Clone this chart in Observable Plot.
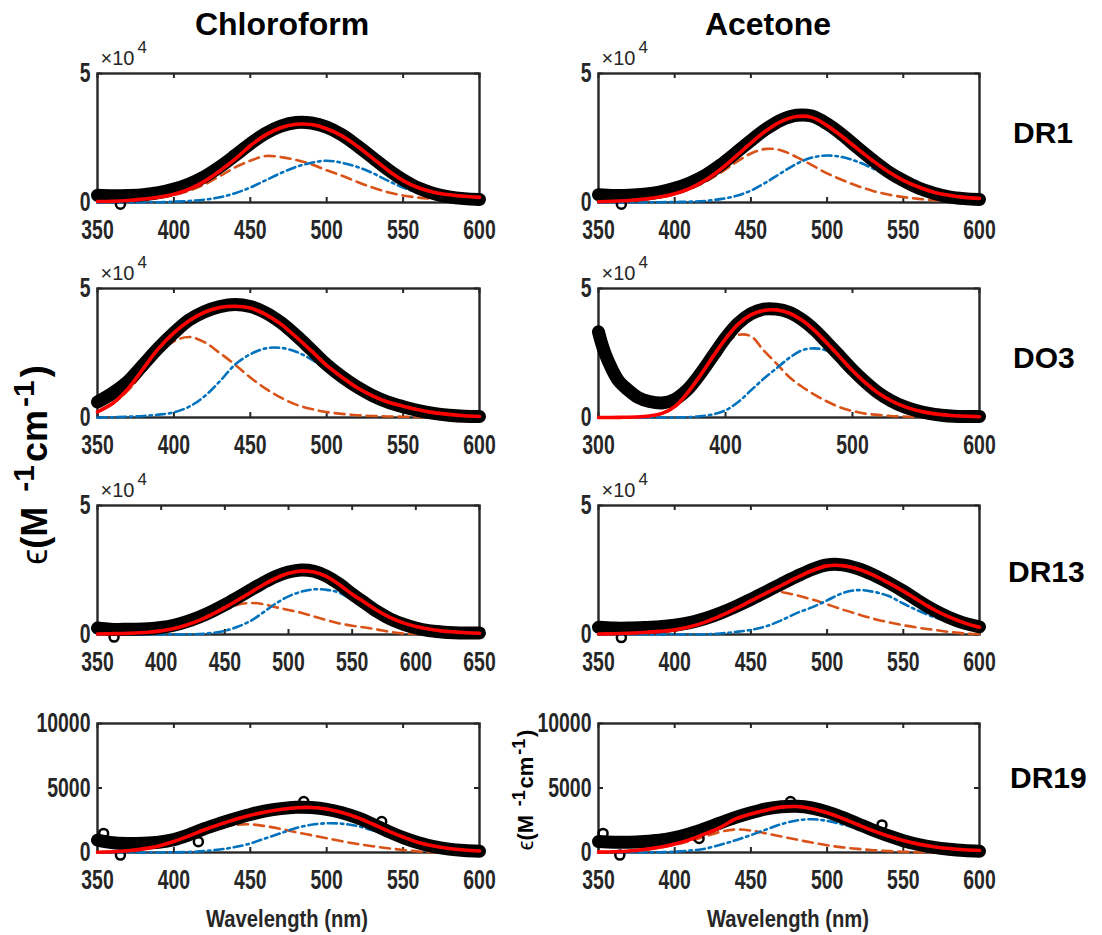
<!DOCTYPE html>
<html><head><meta charset="utf-8">
<script src="https://cdn.jsdelivr.net/npm/d3@7"></script>
<script src="https://cdn.jsdelivr.net/npm/@observablehq/plot@0.6"></script>
<style>
body{margin:0;background:#fff;}
#wrap{position:relative;width:1102px;height:935px;overflow:hidden;background:#fff;}
#wrap svg{position:absolute;}
</style></head><body><div id="wrap"></div>
<script>
// ---------- wavelength grids & ticks ----------
const wl350_600 = [350,360,370,380,390,400,410,420,430,440,450,460,470,480,490,500,510,520,530,540,550,560,570,580,590,600];
const wl300_600 = [300,310,320,330,340,350,360,370,380,390,400,410,420,430,440,450,460,470,480,490,500,510,520,530,540,550,560,570,580,590,600];
const wl350_650 = [350,360,370,380,390,400,410,420,430,440,450,460,470,480,490,500,510,520,530,540,550,560,570,580,590,600,610,620,630,640,650];
const ticks350_600 = [350,400,450,500,550,600];
const ticks300_600 = [300,400,500,600];
const ticks350_650 = [350,400,450,500,550,600,650];
const yTicks5 = [0,5];
const yTicks10k = [0,5000,10000];

// ---------- Chloroform DR1 (x10^4) ----------
const chlDR1_data = [0.28,0.26,0.27,0.30,0.38,0.52,0.72,1.00,1.38,1.82,2.28,2.68,2.96,3.10,3.08,2.92,2.62,2.20,1.74,1.28,0.88,0.56,0.35,0.22,0.15,0.12];
const chlDR1_fit  = [0.04,0.05,0.08,0.13,0.20,0.32,0.52,0.82,1.22,1.68,2.20,2.62,2.90,3.03,3.02,2.86,2.58,2.18,1.72,1.25,0.85,0.57,0.40,0.30,0.24,0.20];
const chlDR1_g1   = [0.04,0.05,0.07,0.12,0.18,0.29,0.46,0.70,1.02,1.36,1.62,1.80,1.76,1.65,1.48,1.25,1.04,0.80,0.58,0.40,0.27,0.19,0.14,0.10,0.08,0.06];
const chlDR1_g2   = [0,0,0,0.01,0.01,0.03,0.06,0.11,0.20,0.36,0.58,0.86,1.14,1.38,1.54,1.62,1.54,1.38,1.14,0.85,0.58,0.38,0.26,0.20,0.16,0.14];
const chlDR1_outX = [365];
const chlDR1_outY = [-0.07];

// ---------- Acetone DR1 (x10^4) ----------
const aceDR1_data = [0.30,0.27,0.28,0.32,0.40,0.55,0.76,1.05,1.45,1.92,2.40,2.85,3.20,3.38,3.35,3.05,2.62,2.12,1.64,1.20,0.85,0.56,0.36,0.22,0.15,0.12];
const aceDR1_fit  = [0.03,0.05,0.08,0.13,0.21,0.34,0.55,0.86,1.28,1.78,2.30,2.78,3.14,3.33,3.30,2.98,2.55,2.08,1.62,1.20,0.86,0.60,0.40,0.28,0.20,0.16];
const aceDR1_g1   = [0.03,0.05,0.08,0.13,0.20,0.32,0.52,0.80,1.15,1.55,1.90,2.08,2.02,1.76,1.45,1.13,0.87,0.64,0.45,0.31,0.21,0.14,0.09,0.06,0.04,0.03];
const aceDR1_g2   = [0,0,0,0.01,0.01,0.02,0.03,0.06,0.13,0.25,0.46,0.78,1.15,1.50,1.74,1.82,1.76,1.58,1.32,1.02,0.75,0.52,0.34,0.22,0.15,0.11];
const aceDR1_outX = [365];
const aceDR1_outY = [-0.07];

// ---------- Chloroform DO3 (x10^4) ----------
const chlDO3_data = [0.60,0.95,1.40,2.05,2.70,3.28,3.78,4.10,4.30,4.38,4.30,4.06,3.68,3.18,2.62,2.05,1.58,1.18,0.85,0.60,0.42,0.27,0.16,0.09,0.05,0.04];
const chlDO3_fit  = [0.22,0.55,1.12,1.90,2.68,3.28,3.75,4.08,4.26,4.31,4.24,4.00,3.62,3.12,2.58,2.02,1.56,1.15,0.84,0.60,0.44,0.30,0.19,0.12,0.07,0.04];
const chlDO3_g1   = [0.22,0.55,1.05,1.75,2.45,2.95,3.12,2.92,2.50,2.05,1.55,1.12,0.77,0.50,0.33,0.21,0.14,0.09,0.06,0.04,0.03,0.02,0.01,0.01,0,0];
const chlDO3_g2   = [0,0.01,0.03,0.06,0.11,0.20,0.42,0.82,1.40,2.05,2.45,2.68,2.70,2.55,2.25,1.85,1.45,1.08,0.78,0.55,0.40,0.26,0.16,0.09,0.05,0.03];
const chlDO3_outX = [];
const chlDO3_outY = [];

// ---------- Acetone DO3 (x10^4) ----------
const aceDO3_dataX = [300,302,305,310,316,323,331,340,350,360,370,380,390,400,410,420,430,440,450,460,470,480,490,500,510,520,530,540,550,560,570,580,590,600];
const aceDO3_data  = [3.32,2.95,2.50,1.93,1.41,1.08,0.78,0.62,0.56,0.70,1.08,1.68,2.38,3.08,3.65,4.02,4.20,4.20,4.08,3.80,3.40,2.90,2.38,1.85,1.38,0.97,0.66,0.43,0.27,0.16,0.09,0.05,0.04,0.04];
const aceDO3_fit   = [0,0,0.01,0.02,0.06,0.16,0.42,0.95,1.62,2.35,3.05,3.62,3.98,4.15,4.17,4.05,3.78,3.38,2.88,2.35,1.82,1.35,0.96,0.66,0.44,0.28,0.18,0.11,0.07,0.05,0.03];
const aceDO3_g1    = [0,0,0,0,0.05,0.15,0.40,0.88,1.55,2.25,2.85,3.20,3.15,2.60,2.10,1.58,1.20,0.89,0.62,0.40,0.25,0.15,0.10,0.06,0.04,0.02,0.01,0,0,0,0];
const aceDO3_g2    = [0,0,0,0,0,0,0,0.01,0.05,0.12,0.28,0.60,1.05,1.50,1.90,2.30,2.60,2.68,2.58,2.20,1.72,1.25,0.88,0.60,0.40,0.26,0.17,0.11,0.07,0.05,0.03];
const aceDO3_outX = [];
const aceDO3_outY = [];

// ---------- Chloroform DR13 (x10^4) ----------
const chlDR13_data = [0.25,0.20,0.20,0.20,0.22,0.27,0.36,0.50,0.68,0.90,1.15,1.43,1.72,2.00,2.25,2.42,2.50,2.45,2.26,1.95,1.57,1.22,0.88,0.60,0.40,0.25,0.15,0.10,0.07,0.06,0.06];
const chlDR13_fit  = [0.02,0.03,0.04,0.06,0.09,0.14,0.23,0.37,0.55,0.78,1.04,1.33,1.62,1.92,2.18,2.37,2.46,2.42,2.24,1.93,1.56,1.24,0.92,0.65,0.45,0.31,0.21,0.14,0.10,0.07,0.05];
const chlDR13_g1   = [0.01,0.01,0.02,0.04,0.07,0.11,0.19,0.31,0.50,0.70,0.95,1.15,1.22,1.18,1.06,0.95,0.84,0.70,0.56,0.43,0.34,0.27,0.19,0.10,0.04,0.02,0.01,0,0,0,0];
const chlDR13_g2   = [0,0,0,0,0,0,0,0,0.02,0.06,0.14,0.30,0.52,0.85,1.20,1.48,1.66,1.75,1.73,1.62,1.33,1.00,0.70,0.50,0.38,0.28,0.20,0.14,0.10,0.07,0.05];
const chlDR13_outX = [363];
const chlDR13_outY = [-0.1];

// ---------- Acetone DR13 (x10^4) ----------
const aceDR13_data = [0.28,0.25,0.25,0.27,0.30,0.36,0.46,0.62,0.83,1.08,1.36,1.66,1.96,2.25,2.52,2.70,2.70,2.56,2.32,2.02,1.68,1.30,0.95,0.66,0.44,0.30];
const aceDR13_fit  = [0.02,0.03,0.05,0.08,0.12,0.18,0.30,0.48,0.72,1.00,1.30,1.60,1.90,2.20,2.47,2.66,2.67,2.54,2.31,2.01,1.68,1.32,0.97,0.68,0.45,0.28];
const aceDR13_g1   = [0.01,0.02,0.04,0.07,0.11,0.17,0.28,0.45,0.68,0.98,1.35,1.62,1.64,1.52,1.36,1.17,0.97,0.79,0.62,0.48,0.36,0.26,0.18,0.10,0.04,0.02];
const aceDR13_g2   = [0,0,0,0,0,0,0,0,0.04,0.10,0.18,0.32,0.55,0.83,1.05,1.32,1.60,1.72,1.66,1.50,1.20,0.92,0.68,0.50,0.38,0.27];
const aceDR13_outX = [365];
const aceDR13_outY = [-0.12];

// ---------- Chloroform DR19 ----------
const chlDR19_data = [950,750,700,720,800,1000,1380,1850,2250,2620,2950,3220,3400,3500,3480,3350,3080,2700,2200,1650,1150,750,450,260,150,100];
const chlDR19_fit  = [25,60,140,280,500,860,1290,1760,2180,2560,2880,3140,3330,3470,3490,3376,3100,2710,2210,1680,1200,780,500,310,190,120];
const chlDR19_g1   = [25,60,140,280,500,850,1250,1650,1950,2140,2180,2040,1830,1570,1340,1110,870,660,490,330,200,80,30,10,0,0];
const chlDR19_g2   = [0,0,0,0,0,10,40,110,230,420,700,1100,1500,1900,2150,2266,2230,2050,1720,1350,1000,700,470,300,190,120];
const chlDR19_outX = [354,365,416,485,536];
const chlDR19_outY = [1480,-200,840,3950,2400];

// ---------- Acetone DR19 ----------
const aceDR19_data = [850,800,800,850,950,1150,1450,1850,2300,2720,3080,3380,3550,3580,3450,3150,2720,2230,1740,1300,920,620,400,250,150,100];
const aceDR19_fit  = [30,60,120,230,400,650,1000,1450,1950,2600,2980,3280,3520,3560,3400,3080,2650,2170,1700,1280,930,650,450,310,210,150];
const aceDR19_g1   = [20,50,110,220,380,600,900,1250,1600,1780,1700,1480,1240,1000,770,560,400,280,180,110,60,30,10,0,0,0];
const aceDR19_g2   = [0,0,0,0,20,60,150,300,600,950,1350,1780,2200,2480,2580,2450,2180,1850,1500,1150,850,600,420,280,180,110];
const aceDR19_outX = [353,364,416,536,476];
const aceDR19_outY = [1480,-200,1090,2140,3950];

// ---------- text ----------
const columnTitles = ["Chloroform", "Acetone"];
const rowLabels = ["DR1", "DO3", "DR13", "DR19"];
const xAxisTitle = "Wavelength (nm)";
const expBase = "×10", expPower = "4";

// ---------- panel table built from the arrays ----------
const panels = [
  {col:0,row:0,x:wl350_600,xticks:ticks350_600,yticks:yTicks5,ydom:[0,5],exp:true,dataX:wl350_600,data:chlDR1_data,fit:chlDR1_fit,g1:chlDR1_g1,g2:chlDR1_g2,outX:chlDR1_outX,outY:chlDR1_outY},
  {col:1,row:0,x:wl350_600,xticks:ticks350_600,yticks:yTicks5,ydom:[0,5],exp:true,dataX:wl350_600,data:aceDR1_data,fit:aceDR1_fit,g1:aceDR1_g1,g2:aceDR1_g2,outX:aceDR1_outX,outY:aceDR1_outY},
  {col:0,row:1,x:wl350_600,xticks:ticks350_600,yticks:yTicks5,ydom:[0,5],exp:true,dataX:wl350_600,data:chlDO3_data,fit:chlDO3_fit,g1:chlDO3_g1,g2:chlDO3_g2,outX:chlDO3_outX,outY:chlDO3_outY},
  {col:1,row:1,x:wl300_600,xticks:ticks300_600,yticks:yTicks5,ydom:[0,5],exp:true,dataX:aceDO3_dataX,data:aceDO3_data,fit:aceDO3_fit,g1:aceDO3_g1,g2:aceDO3_g2,outX:aceDO3_outX,outY:aceDO3_outY},
  {col:0,row:2,x:wl350_650,xticks:ticks350_650,yticks:yTicks5,ydom:[0,5],exp:true,dataX:wl350_650,data:chlDR13_data,fit:chlDR13_fit,g1:chlDR13_g1,g2:chlDR13_g2,outX:chlDR13_outX,outY:chlDR13_outY},
  {col:1,row:2,x:wl350_600,xticks:ticks350_600,yticks:yTicks5,ydom:[0,5],exp:true,dataX:wl350_600,data:aceDR13_data,fit:aceDR13_fit,g1:aceDR13_g1,g2:aceDR13_g2,outX:aceDR13_outX,outY:aceDR13_outY},
  {col:0,row:3,x:wl350_600,xticks:ticks350_600,yticks:yTicks10k,ydom:[0,10000],exp:false,dataX:wl350_600,data:chlDR19_data,fit:chlDR19_fit,g1:chlDR19_g1,g2:chlDR19_g2,outX:chlDR19_outX,outY:chlDR19_outY},
  {col:1,row:3,x:wl350_600,xticks:ticks350_600,yticks:yTicks10k,ydom:[0,10000],exp:false,dataX:wl350_600,data:aceDR19_data,fit:aceDR19_fit,g1:aceDR19_g1,g2:aceDR19_g2,outX:aceDR19_outX,outY:aceDR19_outY}
];

const wrap = document.getElementById("wrap");
const colLeft = [97, 598], colWidth = [382, 381];
const rowTop = [73, 288, 505, 723], innerH = 129;
const M = {l: 70, r: 16, t: 45, b: 40};
const AX = "#262626";
const FONT = "'Liberation Sans', Arial, Helvetica, sans-serif";
const zip = (xs, ys) => xs.map((x, i) => ({x, y: ys[i]}));

for (const p of panels) {
  const W = colWidth[p.col];
  const xdom = [p.x[0], p.x[p.x.length - 1]];
  const lineOpts = {x: "x", y: "y", curve: "catmull-rom"};
  const marks = [
    Plot.frame({stroke: AX, strokeWidth: 2.4}),
    Plot.ruleX(p.xticks, {stroke: AX, strokeWidth: 2, insetTop: innerH - 5}),
    Plot.ruleX(p.xticks, {stroke: AX, strokeWidth: 2, insetBottom: innerH - 5}),
    Plot.ruleY(p.yticks, {stroke: AX, strokeWidth: 2, insetRight: W - 5}),
    Plot.ruleY(p.yticks, {stroke: AX, strokeWidth: 2, insetLeft: W - 5}),
    Plot.line(zip(p.x, p.g1), {...lineOpts, stroke: "#D95319", strokeWidth: 2.6, strokeDasharray: "10,6"}),
    Plot.line(zip(p.x, p.g2), {...lineOpts, stroke: "#0072BD", strokeWidth: 2.6, strokeDasharray: "9,4,2.5,4"}),
    Plot.line(zip(p.dataX, p.data), {...lineOpts, stroke: "#000", strokeWidth: 13, strokeLinecap: "round", strokeLinejoin: "round"}),
    Plot.dot(zip(p.outX, p.outY), {x: "x", y: "y", r: 4.5, stroke: "#000", strokeWidth: 2.5, fill: "none"}),
    Plot.line(zip(p.x, p.fit), {...lineOpts, stroke: "#FF0000", strokeWidth: 3.6})
  ];
  if (p.exp) {
    marks.push(Plot.text([expBase], {frameAnchor: "top-left", dx: 3, dy: -15, textAnchor: "start", lineAnchor: "middle", fontSize: 20, fontWeight: "normal", fill: AX}));
    marks.push(Plot.text([expPower], {frameAnchor: "top-left", dx: 40, dy: -26, textAnchor: "start", lineAnchor: "middle", fontSize: 17, fontWeight: "normal", fill: AX}));
  }
  const svg = Plot.plot({
    width: W + M.l + M.r,
    height: innerH + M.t + M.b,
    marginLeft: M.l, marginRight: M.r, marginTop: M.t, marginBottom: M.b,
    style: {fontFamily: FONT, fontSize: "27px", fontWeight: "bold", color: AX, background: "transparent", overflow: "visible"},
    x: {domain: xdom, ticks: p.xticks, tickSize: 0, tickPadding: 17, tickFormat: d => String(d), label: null},
    y: {domain: p.ydom, ticks: p.yticks, tickSize: 0, tickPadding: 7, tickFormat: d => String(d), label: null},
    marks
  });
  svg.style.position = "absolute";
  svg.style.left = (colLeft[p.col] - M.l) + "px";
  svg.style.top = (rowTop[p.row] - M.t) + "px";
  svg.style.maxWidth = "none";
  wrap.appendChild(svg);
  // condensed look of the tick numbers (exponent label left at natural width)
  svg.querySelectorAll("text").forEach(t => {
    if (t.textContent === expBase || t.textContent === expPower) return;
    const L = t.getComputedTextLength();
    if (L > 0) { t.setAttribute("textLength", (L * 0.72).toFixed(1)); t.setAttribute("lengthAdjust", "spacingAndGlyphs"); }
  });
}

// ---------- overlay titles and labels ----------
const ov = d3.select(wrap).append("svg")
  .attr("width", 1102).attr("height", 935)
  .style("left", "0px").style("top", "0px")
  .style("font-family", FONT).style("font-weight", "bold").style("fill", "#000");

const titleX = [282, 768];
columnTitles.forEach((t, i) => ov.append("text").attr("x", titleX[i]).attr("y", 35)
  .attr("text-anchor", "middle").style("font-size", "32px").text(t));

const rowLabelX = [1013, 1013, 1008, 1010];
const rowLabelY = [143, 368, 582, 788];
rowLabels.forEach((t, i) => ov.append("text").attr("x", rowLabelX[i]).attr("y", rowLabelY[i])
  .style("font-size", "30px").text(t));

[287, 788].forEach(cx => ov.append("text").attr("x", cx).attr("y", 927)
  .attr("text-anchor", "middle").style("font-size", "24px").style("fill", AX)
  .attr("textLength", 162).attr("lengthAdjust", "spacingAndGlyphs").text(xAxisTitle));

function epsLabel(x, y, fs, sup, rise, gap) {
  const t = ov.append("text").attr("transform", `translate(${x},${y}) rotate(-90)`)
    .attr("text-anchor", "middle").style("font-size", fs + "px");
  t.append("tspan").style("font-weight", "normal").text("ϵ");
  t.append("tspan").text("(M");
  t.append("tspan").attr("dx", gap * 2.5).attr("dy", -rise).style("font-size", sup + "px").text("-1");
  t.append("tspan").attr("dx", gap * 0.5).attr("dy", rise).text("cm");
  t.append("tspan").attr("dx", gap * 0.5).attr("dy", -rise).style("font-size", sup + "px").text("-1");
  t.append("tspan").attr("dx", gap * 0.5).attr("dy", rise).text(")");
  return t;
}
epsLabel(47, 465, 36, 30, 13, 6);
epsLabel(533, 790, 22, 18, 8, 3.5);
</script>
</body></html>
